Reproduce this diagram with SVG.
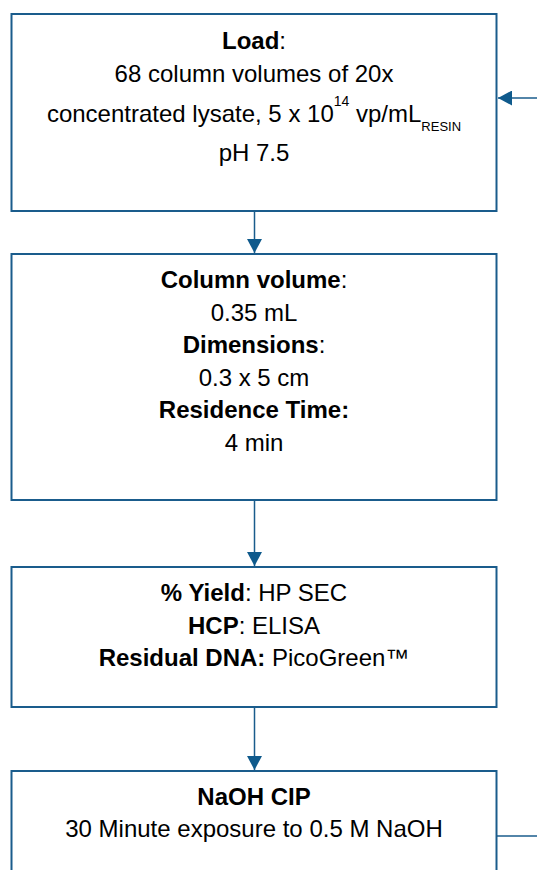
<svg xmlns="http://www.w3.org/2000/svg" width="537" height="870" viewBox="0 0 537 870">
  <style>
    .box { fill: #ffffff; stroke: #1A5C8C; stroke-width: 2; }
    .conn { stroke: #1A5C8C; stroke-width: 1.5; fill: none; }
    text { font-family: "Liberation Sans", Arial, sans-serif; font-size: 24px; fill: #000000; text-anchor: middle; }
    .b { font-weight: bold; }
    .sup { font-size: 14px; }
    .sub { font-size: 13px; }
  </style>
  <defs>
    <marker id="arr" viewBox="0 0 14 15" markerWidth="14" markerHeight="15" refX="14" refY="7.5" orient="auto" markerUnits="userSpaceOnUse">
      <path d="M0,0 L14,7.5 L0,15 Z" fill="#0F5A8C"/>
    </marker>
  </defs>
  <rect x="0" y="0" width="537" height="870" fill="#ffffff"/>

  <g id="connectors">
    <line class="conn" x1="537" y1="98" x2="498" y2="98" marker-end="url(#arr)"/>
    <line class="conn" x1="254.5" y1="211" x2="254.5" y2="253" marker-end="url(#arr)"/>
    <line class="conn" x1="254.5" y1="500" x2="254.5" y2="566" marker-end="url(#arr)"/>
    <line class="conn" x1="254.5" y1="707" x2="254.5" y2="770" marker-end="url(#arr)"/>
    <line class="conn" x1="497" y1="836" x2="537" y2="836"/>
  </g>

  <g id="node-load">
    <rect class="box" x="11.5" y="14" width="485" height="197"/>
    <text x="254" y="49"><tspan class="b">Load</tspan>:</text>
    <text x="254" y="82">68 column volumes of 20x</text>
    <text x="254" y="122">concentrated lysate, 5 x 10<tspan class="sup" dy="-16">14</tspan><tspan dy="16"> vp/mL</tspan><tspan class="sub" dy="9">RESIN</tspan></text>
    <text x="254" y="161">pH 7.5</text>
  </g>

  <g id="node-column">
    <rect class="box" x="11.5" y="254" width="485" height="246"/>
    <text x="254" y="288"><tspan class="b">Column volume</tspan>:</text>
    <text x="254" y="321">0.35 mL</text>
    <text x="254" y="353"><tspan class="b">Dimensions</tspan>:</text>
    <text x="254" y="386">0.3 x 5 cm</text>
    <text x="254" y="418" class="b">Residence Time:</text>
    <text x="254" y="451">4 min</text>
  </g>

  <g id="node-analytics">
    <rect class="box" x="11.5" y="567" width="485" height="140"/>
    <text x="254" y="601"><tspan class="b">% Yield</tspan>: HP SEC</text>
    <text x="254" y="634"><tspan class="b">HCP</tspan>: ELISA</text>
    <text x="254" y="666"><tspan class="b">Residual DNA:</tspan> PicoGreen™</text>
  </g>

  <g id="node-cip">
    <rect class="box" x="11.5" y="771" width="485" height="120"/>
    <text x="254" y="805" class="b">NaOH CIP</text>
    <text x="254" y="837">30 Minute exposure to 0.5 M NaOH</text>
  </g>
</svg>
